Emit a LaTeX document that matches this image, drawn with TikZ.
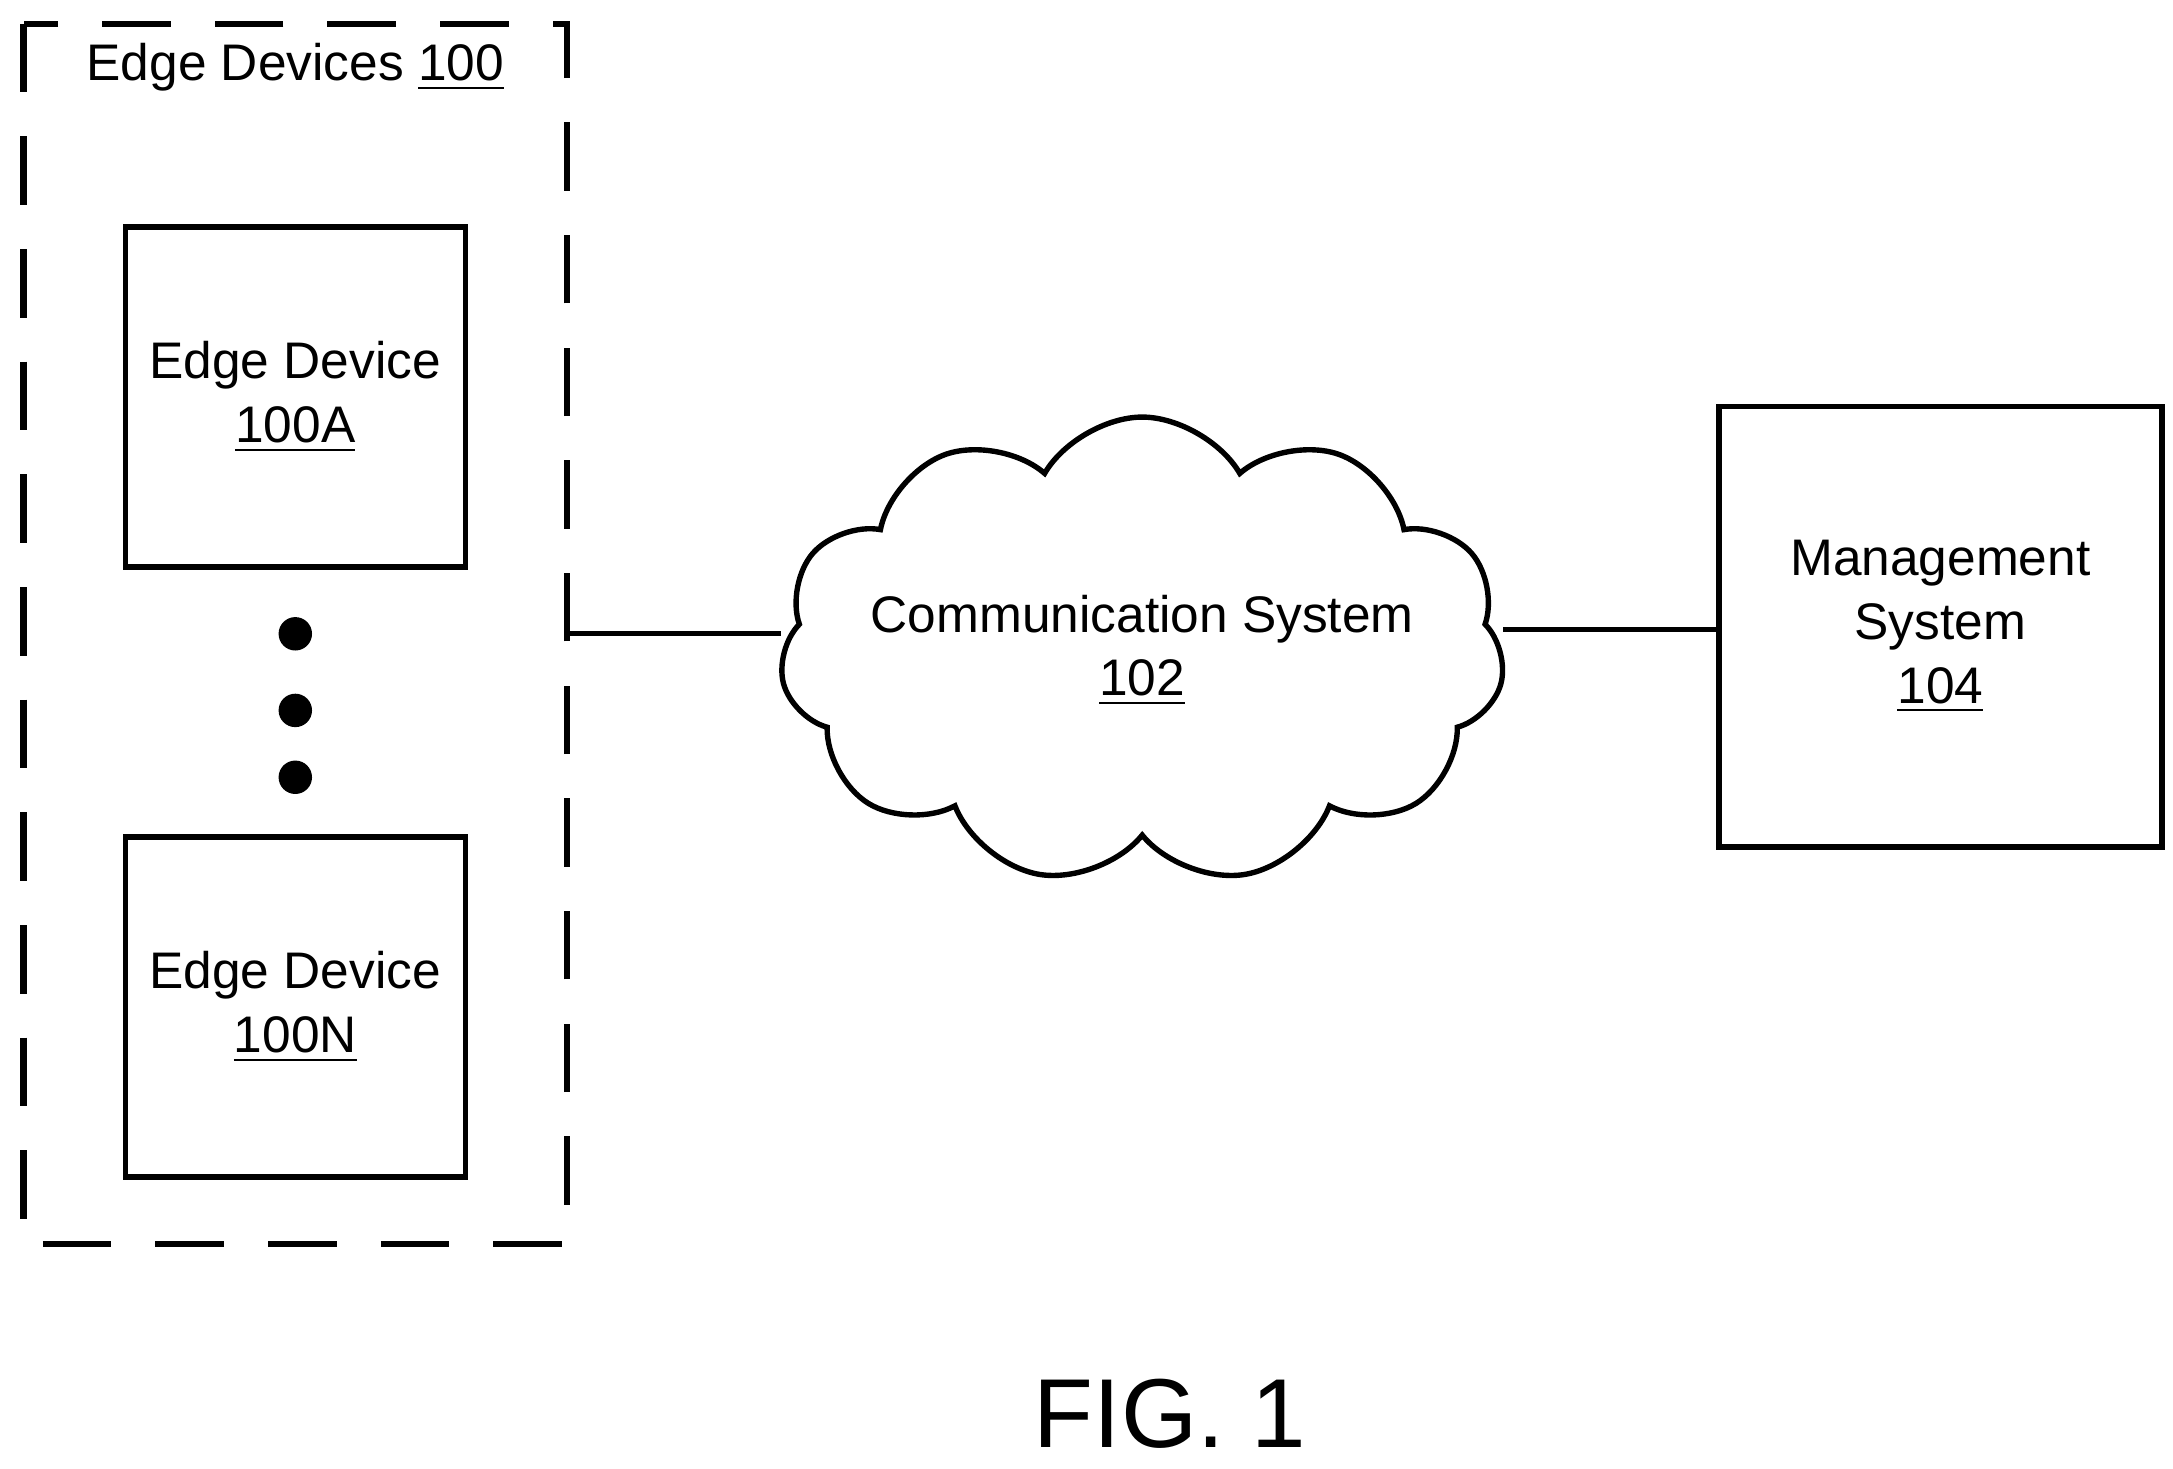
\documentclass[tikz,border=0pt]{standalone}
\usepackage{fontspec}
\setmainfont{Liberation Sans}
\usetikzlibrary{shapes.symbols}
\begin{document}
\begin{tikzpicture}[x=0.01cm,y=-0.01cm,line width=1.1pt,
	lbl/.style={align=center,font=\fontsize{10.5}{13}\selectfont}]
		\useasboundingbox (0,0) rectangle (1560,1054);
		\draw[dashed,dash pattern=on 14pt off 9pt,line width=1.3pt] (17,17) rectangle (407,893);
		\node[lbl] (title) at (212,48) {Edge Devices \underline{100}};
		\draw (90,163) rectangle node[lbl] (devA) {Edge Device\\\underline{100A}} (334,407);
		\draw (90,601) rectangle node[lbl] (devN) {Edge Device\\\underline{100N}} (334,845);
		\foreach \y in {455,510,558}
			\fill (212,\y) circle (12);
		\coordinate (edge) at (407,455);
		\node[cloud,draw,cloud puffs=11,cloud puff arc=120,aspect=1.55,
			minimum width=5.2cm,minimum height=3.35cm] (cloud) at (820,467) {};
		\node[lbl] (comm) at (820,467) {Communication System\\\underline{102}};
		\draw (1234,292) rectangle node[lbl] (mgmt) {Management\\System\\\underline{104}} (1552,608);
		\coordinate (mgmtL) at (1234,452);
		\draw (edge) -- (edge -| cloud.west);
		\draw (mgmtL -| cloud.east) -- (mgmtL);
		\node[font=\fontsize{20}{24}\selectfont] (fig) at (840,1015) {FIG. 1};
	\end{tikzpicture}
\end{document}
